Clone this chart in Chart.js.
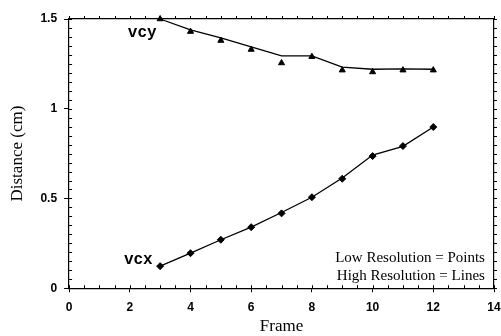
<!DOCTYPE html>
<html>
<head>
<meta charset="utf-8">
<script src="https://cdn.jsdelivr.net/npm/chart.js@4.4.1/dist/chart.umd.min.js"></script>
<style>
  html, body { margin: 0; padding: 0; background: #fff; }
  canvas { display: block; }
</style>
</head>
<body>
<canvas id="grafico" width="501" height="336"></canvas>
<script>
// ===== DADOS =====
const frames = [3, 4, 5, 6, 7, 8, 9, 10, 11, 12];

// baixa resolução = pontos
const vcyPontos = [1.50, 1.43, 1.38, 1.33, 1.255, 1.29, 1.215, 1.205, 1.215, 1.215];
const vcxPontos = [0.123, 0.195, 0.27, 0.34, 0.417, 0.507, 0.61, 0.736, 0.792, 0.898];

// alta resolução = linhas
const vcyLinha = [1.50, 1.44, 1.395, 1.345, 1.295, 1.295, 1.232, 1.22, 1.222, 1.22];
const vcxLinha = [0.123, 0.195, 0.27, 0.34, 0.422, 0.507, 0.614, 0.742, 0.79, 0.898];

const ticksX = [0, 2, 4, 6, 8, 10, 12, 14];
const ticksY = [0, 0.5, 1, 1.5];

function pares(xs, ys) {
    return xs.map((x, i) => ({ x: x, y: ys[i] }));
}

// ===== MARCAS MENORES E TEXTOS =====
const extras = {
    id: 'extras',
    afterDraw(chart) {
        const ctx = chart.ctx;
        const a = chart.chartArea;
        const x = chart.scales.x;
        const y = chart.scales.y;
        ctx.save();
        ctx.strokeStyle = '#000';
        ctx.lineWidth = 1;
        ctx.beginPath();
        for (let i = 0; i <= 28; i++) {
            const px = Math.round(x.getPixelForValue(i * 0.5)) + 0.5;
            ctx.moveTo(px, a.bottom); ctx.lineTo(px, a.bottom - 3);
            ctx.moveTo(px, a.top); ctx.lineTo(px, a.top - 3);
        }
        for (let i = 0; i <= 30; i++) {
            const py = Math.round(y.getPixelForValue(i * 0.05)) + 0.5;
            ctx.moveTo(a.left, py); ctx.lineTo(a.left + 3, py);
            ctx.moveTo(a.right, py); ctx.lineTo(a.right + 3, py);
        }
        ctx.stroke();

        ctx.fillStyle = '#000';
        ctx.textAlign = 'center';
        ctx.textBaseline = 'middle';
        ctx.font = 'bold 16px "Liberation Mono"';
        ctx.fillText('vcy', x.getPixelForValue(2.41), y.getPixelForValue(1.42));
        ctx.fillText('vcx', x.getPixelForValue(2.28), y.getPixelForValue(0.156));

        ctx.textAlign = 'right';
        ctx.font = '15px "Liberation Serif"';
        ctx.fillText('Low Resolution = Points', x.getPixelForValue(13.7), y.getPixelForValue(0.167));
        ctx.fillText('High Resolution = Lines', x.getPixelForValue(13.7), y.getPixelForValue(0.067));
        ctx.restore();
    }
};

const estiloLinha = { borderColor: '#000', borderWidth: 1.3, pointRadius: 0, fill: false, tension: 0, clip: false };
const estiloPonto = { borderColor: '#000', backgroundColor: '#000', showLine: false, pointRadius: 3.5, clip: false };

new Chart(document.getElementById('grafico').getContext('2d'), {
    type: 'line',
    data: {
        datasets: [
            Object.assign({ label: 'vcy linha', data: pares(frames, vcyLinha) }, estiloLinha),
            Object.assign({ label: 'vcx linha', data: pares(frames, vcxLinha) }, estiloLinha),
            Object.assign({ label: 'vcy pontos', data: pares(frames, vcyPontos), pointStyle: 'triangle' }, estiloPonto),
            Object.assign({ label: 'vcx pontos', data: pares(frames, vcxPontos), pointStyle: 'rectRot' }, estiloPonto)
        ]
    },
    options: {
        responsive: false,
        animation: false,
        layout: { padding: { top: 19, right: 7, left: 7, bottom: 0 } },
        plugins: { legend: { display: false }, tooltip: { enabled: false } },
        scales: {
            x: {
                type: 'linear', position: 'bottom', min: 0, max: 14,
                afterBuildTicks: s => { s.ticks = ticksX.map(v => ({ value: v })); },
                afterFit: s => { s.paddingLeft = 0; s.paddingRight = 0; },
                ticks: { color: '#000', font: { family: '"Liberation Sans"', size: 12, weight: 'bold' }, padding: 8, maxRotation: 0 },
                grid: { drawOnChartArea: false, tickLength: 4, color: '#000' },
                border: { color: '#000', width: 1.2 },
                title: { display: true, text: 'Frame', color: '#000', font: { family: '"Liberation Serif"', size: 17 }, padding: { top: -6, bottom: -1 } }
            },
            x2: {
                type: 'linear', position: 'top', min: 0, max: 14,
                ticks: { display: false },
                grid: { drawOnChartArea: false, drawTicks: false },
                border: { color: '#000', width: 1.2 },
                afterFit: s => { s.height = 0; s.paddingLeft = 0; s.paddingRight = 0; }
            },
            y: {
                type: 'linear', position: 'left', min: 0, max: 1.5,
                afterBuildTicks: s => { s.ticks = ticksY.map(v => ({ value: v })); },
                ticks: { color: '#000', font: { family: '"Liberation Sans"', size: 12, weight: 'bold' }, padding: 7, callback: v => String(v) },
                grid: { drawOnChartArea: false, tickLength: 5, color: '#000' },
                border: { color: '#000', width: 1.2 },
                title: { display: true, text: 'Distance (cm)', color: '#000', font: { family: '"Liberation Serif"', size: 17 }, padding: { top: 0, bottom: 6 } }
            },
            y2: {
                type: 'linear', position: 'right', min: 0, max: 1.5,
                ticks: { display: false },
                grid: { drawOnChartArea: false, drawTicks: false },
                border: { color: '#000', width: 1.2 },
                afterFit: s => { s.width = 0; }
            }
        }
    },
    plugins: [extras]
});
</script>
</body>
</html>
